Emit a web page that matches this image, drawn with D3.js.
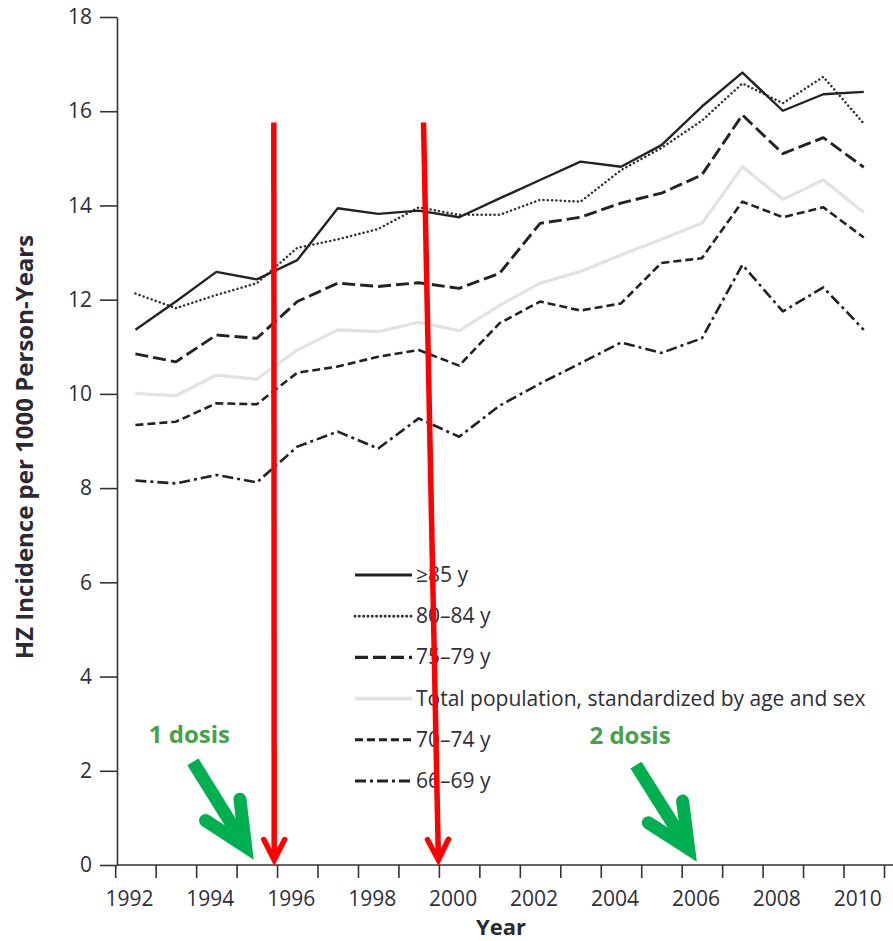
<!DOCTYPE html>
<html>
<head>
<meta charset="utf-8">
<script src="https://cdn.jsdelivr.net/npm/d3@7/dist/d3.min.js"></script>
<style>
  body { margin: 0; background: #fff; }
  svg { display: block; font-family: "Open Sans", sans-serif; }
</style>
</head>
<body>
<div id="chart-area"></div>
<script>
const years = d3.range(1992, 2011);

const age85 = [11.36, 11.96, 12.59, 12.43, 12.84, 13.94, 13.82, 13.89, 13.75, 14.15, 14.54, 14.93, 14.82, 15.28, 16.1, 16.82, 16.01, 16.36, 16.41];
const age80 = [12.13, 11.82, 12.1, 12.35, 13.1, 13.28, 13.5, 13.96, 13.8, 13.8, 14.12, 14.08, 14.75, 15.22, 15.8, 16.59, 16.17, 16.73, 15.74];
const age75 = [10.85, 10.68, 11.25, 11.18, 11.96, 12.35, 12.28, 12.36, 12.24, 12.56, 13.62, 13.75, 14.05, 14.26, 14.65, 15.92, 15.1, 15.44, 14.81];
const total = [10.01, 9.96, 10.4, 10.31, 10.93, 11.36, 11.32, 11.52, 11.34, 11.88, 12.35, 12.6, 12.95, 13.28, 13.62, 14.82, 14.13, 14.54, 13.85];
const age70 = [9.34, 9.41, 9.8, 9.78, 10.45, 10.58, 10.79, 10.93, 10.6, 11.5, 11.96, 11.77, 11.92, 12.78, 12.88, 14.08, 13.75, 13.96, 13.32];
const age66 = [8.16, 8.1, 8.28, 8.12, 8.88, 9.2, 8.84, 9.48, 9.09, 9.75, 10.22, 10.65, 11.09, 10.87, 11.18, 12.74, 11.75, 12.26, 11.36];

const seriesNames = ["≥85 y", "80–84 y", "75–79 y", "Total population, standardized by age and sex", "70–74 y", "66–69 y"];
const seriesValues = [age85, age80, age75, total, age70, age66];

const yTicks = d3.range(0, 19, 2);
const xLabels = d3.range(1992, 2011, 2);

// annotations, in data units (year, incidence)
const redArrows = [
  { x0: 1995.42, y0: 15.76, x1: 1995.43, y1: 0 },
  { x0: 1999.12, y0: 15.76, x1: 1999.49, y1: 0 }
];
const greenArrows = [
  { x0: 1993.42, y0: 2.19, x1: 1994.88, y1: 0.17 },
  { x0: 2004.37, y0: 2.12, x1: 2005.83, y1: 0.13 }
];
const doseLabels = [
  { text: "1 dosis", x: 1992.33, y: 2.6 },
  { text: "2 dosis", x: 2003.22, y: 2.56 }
];

const styles = [
  { dash: null, width: 2.4, color: "#222", cap: "butt" },
  { dash: "0.1 4.2", width: 2.5, color: "#333", cap: "round" },
  { dash: "13 5", width: 2.9, color: "#222", cap: "butt" },
  { dash: null, width: 3.2, color: "#e2e2e2", cap: "butt" },
  { dash: "8 4", width: 2.6, color: "#222", cap: "butt" },
  { dash: "11 4 3 4", width: 2.6, color: "#222", cap: "butt" }
];

const width = 893;
const height = 941;

const svg = d3.select("#chart-area")
              .append("svg")
              .attr("width", width)
              .attr("height", height);

const x = d3.scaleLinear()
            .domain([1991.5, 2010.5])
            .range([115.2, 884]);

const y = d3.scaleLinear()
            .domain([0, 18])
            .range([865, 17]);

// y axis
const yAxis = svg.append("g")
   .attr("transform", "translate(117,0)")
   .call(d3.axisLeft(y).tickValues(yTicks).tickSize(17).tickSizeOuter(0).tickPadding(8));
yAxis.select(".domain").attr("stroke", "#333").attr("stroke-width", 1.6);
yAxis.selectAll(".tick line").attr("stroke", "#333").attr("stroke-width", 1.6);
yAxis.selectAll(".tick text")
     .attr("font-size", 21)
     .attr("font-family", "Open Sans")
     .attr("fill", "#2e2e38");

// x axis, ticks between years
const xAxis = svg.append("g")
   .attr("transform", "translate(0,865)")
   .call(d3.axisBottom(x).tickValues(d3.range(1991.5, 2011, 1)).tickFormat("").tickSize(13).tickSizeOuter(0));
xAxis.select(".domain").attr("d", "M117,0H893").attr("stroke", "#333").attr("stroke-width", 1.6);
xAxis.selectAll(".tick line").attr("stroke", "#333").attr("stroke-width", 1.6);

svg.append("g")
   .selectAll("text")
   .data(xLabels)
   .enter()
   .append("text")
   .attr("x", d => x(d) - 6)
   .attr("y", 906)
   .attr("text-anchor", "middle")
   .attr("font-size", 21)
   .attr("fill", "#2e2e38")
   .text(d => d);

svg.append("text")
   .attr("x", 501)
   .attr("y", 935)
   .attr("text-anchor", "middle")
   .attr("font-size", 22)
   .attr("font-weight", "bold")
   .attr("fill", "#2a2a33")
   .text("Year");

svg.append("text")
   .attr("text-anchor", "middle")
   .attr("transform", "translate(33,447) rotate(-90)")
   .attr("font-size", 24)
   .attr("font-weight", "bold")
   .attr("fill", "#2a2a33")
   .text("HZ Incidence per 1000 Person-Years");

// lines
const line = d3.line()
               .x((d, i) => x(years[i]))
               .y(d => y(d));

const drawOrder = [3, 5, 4, 2, 1, 0];
svg.append("g")
   .selectAll("path")
   .data(drawOrder)
   .enter()
   .append("path")
   .attr("d", i => line(seriesValues[i]))
   .attr("fill", "none")
   .attr("stroke", i => styles[i].color)
   .attr("stroke-width", i => styles[i].width)
   .attr("stroke-dasharray", i => styles[i].dash)
   .attr("stroke-linecap", i => styles[i].cap)
   .attr("stroke-linejoin", "round");

// legend
const legend = svg.append("g")
   .selectAll("g")
   .data(seriesNames)
   .enter()
   .append("g")
   .attr("transform", (d, i) => `translate(0, ${575 + i * 41.2})`);

legend.append("line")
      .attr("x1", 355)
      .attr("x2", 412)
      .attr("stroke", (d, i) => styles[i].color)
      .attr("stroke-width", (d, i) => styles[i].width + 0.4)
      .attr("stroke-dasharray", (d, i) => styles[i].dash)
      .attr("stroke-linecap", (d, i) => styles[i].cap);

legend.append("text")
      .attr("x", 416)
      .attr("y", 7)
      .attr("font-size", 21)
      .attr("fill", "#2e2e38")
      .text(d => d);

// arrows: the head vertex is pulled back so the mitered point lands on the tip
const drawArrow = (g, a, color, w, headLen, headAng, pull) => {
  const x0 = x(a.x0), y0 = y(a.y0);
  const back = Math.atan2(y0 - y(a.y1), x0 - x(a.x1));
  const x1 = x(a.x1) + pull * Math.cos(back), y1 = y(a.y1) + pull * Math.sin(back);
  const arm = t => [x1 + headLen * Math.cos(back + t), y1 + headLen * Math.sin(back + t)];
  const p1 = arm(headAng), p2 = arm(-headAng);
  g.append("line")
   .attr("x1", x0).attr("y1", y0)
   .attr("x2", x1).attr("y2", y1)
   .attr("stroke", color)
   .attr("stroke-width", w);
  g.append("path")
   .attr("d", `M${p1[0]},${p1[1]}L${x1},${y1}L${p2[0]},${p2[1]}`)
   .attr("fill", "none")
   .attr("stroke", color)
   .attr("stroke-width", w)
   .attr("stroke-linecap", "round")
   .attr("stroke-linejoin", "miter")
   .attr("stroke-miterlimit", 10);
};

const arrows = svg.append("g");
redArrows.forEach(a => drawArrow(arrows, a, "#ff0000", 5.5, 23, 27 * Math.PI / 180, 5));
greenArrows.forEach(a => drawArrow(arrows, a, "#00b050", 13, 48, 25 * Math.PI / 180, 12));

svg.append("g")
   .selectAll("text")
   .data(doseLabels)
   .enter()
   .append("text")
   .attr("x", d => x(d.x))
   .attr("y", d => y(d.y))
   .attr("font-size", 24)
   .attr("font-weight", "bold")
   .attr("fill", "#45a14a")
   .text(d => d.text);
</script>
</body>
</html>
